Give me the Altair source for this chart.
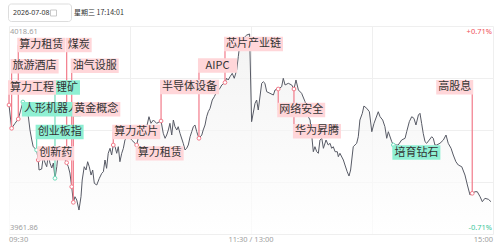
import altair as alt
import pandas as pd

# ---------------- data ----------------
t_min = [0.0, 1.3, 3.0, 4.6, 6.9, 9.6, 10.4, 11.3, 12.0, 13.7, 14.5, 14.9, 16.2, 17.0, 17.9, 18.7,
         19.5, 20.3, 21.2, 22.0, 22.8, 23.7, 24.4, 25.3, 26.1, 26.9, 28.6, 29.4, 30.2, 31.1, 31.9,
         32.7, 33.6, 34.7, 35.7, 36.3, 37.3, 38.2, 39.0, 39.8, 40.7, 41.5, 42.3, 43.5, 44.8, 46.0,
         46.8, 47.6, 48.4, 49.2, 50.1, 50.9, 51.7, 52.6, 53.4, 54.2, 55.0, 55.9, 56.7, 57.5, 59.2,
         60.8, 62.5, 63.3, 65.0, 66.6, 68.3, 69.4, 70.4, 71.6, 73.2, 75.4, 76.5, 77.4, 78.2, 79.0,
         79.8, 80.7, 81.5, 82.3, 83.2, 83.9, 84.8, 86.4, 87.3, 88.1, 88.9, 89.8, 90.6, 91.4, 92.2,
         93.1, 94.2, 95.6, 96.3, 97.2, 98.0, 98.8, 99.7, 100.8, 101.8, 103.0, 104.6, 105.5, 107.1,
         107.9, 108.7, 109.6, 110.7, 111.7, 112.9, 113.7, 114.5, 115.4, 117.9, 119.3,
         120.3, 122.0, 122.8, 123.6, 125.3, 126.1, 126.9, 127.8, 129.4, 131.1, 131.9, 133.5, 135.2,
         136.0, 136.9, 138.5, 140.2, 141.3, 142.3, 143.5, 145.1, 146.8, 148.4, 149.3, 150.1, 150.9,
         151.7, 152.6, 153.4, 154.2, 155.1, 155.9, 157.2, 158.3, 159.2, 160.0, 160.8, 161.7, 162.8,
         163.3, 164.1, 165.8, 166.6, 167.7, 168.6, 169.4, 170.7, 172.4, 173.2, 174.0, 175.2, 176.0,
         177.4, 178.7, 179.9, 181.0,
         183.1, 184.0, 185.3, 186.4, 187.3, 188.1, 189.8, 190.6, 193.0, 194.7, 196.4, 197.2, 198.5,
         199.7, 200.8, 201.8, 203.0, 203.8, 204.6, 205.4, 206.3, 207.1, 208.4, 209.6, 210.4, 211.2,
         212.1, 213.7, 215.4, 216.7, 217.8, 219.2, 220.3, 221.6, 222.8, 224.5, 226.1, 227.3, 228.6,
         229.7, 231.1, 232.2, 233.6, 234.7, 236.0, 237.7, 239.0]

price = [3997.06, 3990.70, 3992.06, 3993.24, 3997.87, 3993.86, 3990.24, 3987.51, 3985.68, 3984.78,
         3982.05, 3979.32, 3979.59, 3982.95, 3981.23, 3980.22, 3983.41, 3981.23, 3979.87, 3981.23,
         3977.06, 3980.22, 3983.96, 3982.05, 3984.78, 3982.95, 3981.31, 3980.22, 3978.50, 3974.76,
         3970.50, 3972.03, 3971.13, 3968.40, 3972.03, 3976.59, 3980.22, 3979.32, 3981.58, 3980.22,
         3977.95, 3979.32, 3975.69, 3975.23, 3977.06, 3978.42, 3978.86, 3982.05, 3979.78, 3983.88,
         3985.24, 3983.41, 3986.14, 3985.68, 3983.88, 3985.68, 3981.58, 3983.88, 3985.24, 3987.51,
         3988.87,
         3987.51, 3986.61, 3986.14, 3990.24, 3988.87, 3991.14, 3993.86, 3992.06, 3992.96, 3992.06,
         3992.69, 3989.33, 3987.97, 3988.87, 3990.24, 3992.06, 3988.87, 3992.96, 3991.14, 3990.24,
         3991.14, 3989.33, 3986.61, 3984.78, 3985.24, 3986.14, 3988.40, 3989.77, 3991.14, 3991.60,
         3989.77, 3987.97, 3988.87, 3990.24, 3991.60, 3993.86, 3995.22, 3996.15, 3998.42, 3999.32,
         4000.68, 4001.61, 4002.51, 4003.19, 4004.34, 4003.88, 4004.78, 4005.70, 4004.34, 4006.60,
         4010.23, 4013.89, 4014.79, 4016.15, 4016.43,
         3992.50, 3997.52, 3998.42, 3995.69, 4002.98, 4003.41, 4002.98, 4000.68, 4000.25, 3999.78,
         4001.15, 4001.42, 4002.05, 4004.34, 4002.51, 4002.98, 4002.51, 4001.42, 4003.88, 4001.15,
         4000.25, 3997.96, 3993.86, 3992.96, 3988.87, 3984.31, 3985.68, 3984.31, 3983.88, 3987.51,
         3987.97, 3985.24, 3987.51, 3986.14, 3986.61, 3985.24, 3985.68, 3984.31, 3984.31, 3982.95,
         3983.88, 3982.05, 3980.68, 3978.86, 3977.68, 3979.32, 3985.68, 3986.61, 3988.40, 3992.96,
         3994.79, 3996.78, 3996.15, 3995.22, 3989.77, 3992.06,
         3995.22, 3993.86, 3992.96, 3991.14, 3987.97, 3989.77, 3987.04, 3986.14, 3986.14, 3987.51,
         3987.97, 3989.77, 3992.50, 3993.86, 3993.42, 3991.60, 3994.32, 3994.79, 3992.06, 3989.33,
         3987.04, 3986.61, 3987.51, 3988.40, 3987.97, 3986.14, 3986.14, 3986.61, 3987.51, 3988.87,
         3986.61, 3985.24, 3983.41, 3981.58, 3980.68, 3980.22, 3977.95, 3975.23, 3972.50, 3972.96,
         3973.40, 3973.40, 3972.03, 3970.67, 3971.60, 3971.33, 3970.67]

y_low, y_high = 3961.86, 4018.61

tag_names = ['算力工程', '旅游酒店', '算力租赁', '人形机器人', '创新药', '创业板指', '锂矿', '煤炭',
             '油气设服', '黄金概念', '算力芯片', '算力租赁', '半导体设备', 'AIPC', '芯片产业链',
             '网络安全', '华为昇腾', '培育钻石', '高股息']
tag_kind = ['rise', 'rise', 'rise', 'fall', 'rise', 'fall', 'fall', 'rise',
            'rise', 'rise', 'rise', 'rise', 'rise', 'rise', 'rise',
            'rise', 'rise', 'fall', 'rise']
tag_t = [0.0, 1.3, 4.6, 6.9, 14.5, 13.7, 22.8, 28.6, 31.1, 31.9, 51.7, 63.3, 75.4, 94.2, 107.1,
         133.5, 141.3, 190.6, 229.7]
tag_price = [3997.06, 3990.70, 3993.24, 3997.87, 3982.05, 3984.78, 3977.06, 3981.31, 3974.76,
             3970.50, 3986.14, 3986.14, 3992.69, 3987.97, 4003.19, 4001.42, 4001.42, 3986.14, 3972.96]
tag_box_price = [4001.83, 4007.61, 4013.42, 3995.88, 3983.87, 3989.69, 4001.83, 4013.42, 4007.75,
                 3995.88, 3989.69, 3983.87, 4001.97, 4007.83, 4013.70, 3995.69, 3989.88, 3984.09,
                 4001.88]
tag_side = ['left'] * 18 + ['right']

time_ticks = [0, 120, 240]
time_labels = ['09:30', '11:30 / 13:00', '15:00']
date_text = '2026-07-08'
clock_text = '星期三 17:14:01'

# ---------------- layout / style ----------------
W, H = 484, 208
PX_MIN = W / 240
PX_PRICE = H / (y_high - y_low)
FONT = 'Noto Sans CJK SC'
FS = 11
RED_LINE, RED_BOX = '#f27b8a', '#ffd6d9'
GRN_LINE, GRN_BOX = '#6fdcba', '#8ff0d3'

prev_close = (y_low + y_high) / 2
pct = (y_high - prev_close) / prev_close * 100

xs = alt.Scale(domain=[0, 240], nice=False, zero=False)
ys = alt.Scale(domain=[y_low, y_high], nice=False, zero=False)
xaxis = alt.Axis(values=[0, 60, 120, 180, 240], labels=False, ticks=False, domain=False,
                 grid=True, gridColor='#efefef', gridWidth=1, title=None)
yq = (y_high - y_low) / 4
yaxis = alt.Axis(values=[y_low, y_low + yq, prev_close, y_low + 3 * yq, y_high], labels=False,
                 ticks=False, domain=False, grid=True, gridColor='#efefef', gridWidth=1, title=None)


def X(f):
    return alt.X(f, type='quantitative', scale=xs, axis=xaxis)


def Y(f):
    return alt.Y(f, type='quantitative', scale=ys, axis=yaxis)


def text_px(s):
    return sum(FS * 0.8 if ord(c) < 128 else FS for c in s)


line_df = pd.DataFrame({'t': t_min, 'p': price})

rows = []
for n, k, t, p, bp, sd in zip(tag_names, tag_kind, tag_t, tag_price, tag_box_price, tag_side):
    w = text_px(n) + 4
    mx = t * PX_MIN
    x0 = mx - 1 if sd == 'left' else mx - w + 1
    x1 = x0 + w
    rows.append(dict(name=n, kind=k, t=t, p=p, bp=bp,
                     x0=x0 / PX_MIN, x1=x1 / PX_MIN, xc=(x0 + x1) / 2 / PX_MIN,
                     y0=bp - 7.2 / PX_PRICE, y1=bp + 7.2 / PX_PRICE))
tags = pd.DataFrame(rows)

grad = alt.Gradient(gradient='linear',
                    stops=[alt.GradientStop(color='#eeeeee', offset=0),
                           alt.GradientStop(color='#ffffff', offset=1)],
                    x1=1, x2=1, y1=0, y2=1)

layers = []
layers.append(alt.Chart(line_df).mark_area(fill=grad, opacity=0.7).encode(
    x=X('t'), y=Y('p'), y2=alt.datum(y_low)))
layers.append(alt.Chart(line_df).mark_line(color='#585b66', strokeWidth=1).encode(
    x=X('t'), y=Y('p')))

# connector rules and markers
for kind, col in (('fall', GRN_LINE), ('rise', RED_LINE)):
    d = tags[tags.kind == kind]
    layers.append(alt.Chart(d).mark_rule(color=col, strokeWidth=1.2).encode(
        x=X('t'), y=Y('p'), y2='bp:Q'))
for kind, col in (('fall', GRN_LINE), ('rise', RED_LINE)):
    d = tags[tags.kind == kind]
    layers.append(alt.Chart(d).mark_point(shape='circle', filled=True, fill='white', stroke=col,
                                          strokeWidth=1, size=14, opacity=1).encode(
        x=X('t'), y=Y('p')))

# label boxes: green first, pink on top
for kind, col in (('fall', GRN_BOX), ('rise', RED_BOX)):
    d = tags[tags.kind == kind]
    for _, r in d.iterrows():
        one = pd.DataFrame([r])
        layers.append(alt.Chart(one).mark_rect(fill=col).encode(
            x=X('x0'), x2='x1:Q', y=Y('y0'), y2='y1:Q'))
        layers.append(alt.Chart(one).mark_text(font=FONT, fontSize=FS, color='#333333',
                                               align='center', baseline='middle').encode(
            x=X('xc'), y=Y('bp'), text='name:N'))

# corner price labels
corner = [
    (0, y_high, f'{y_high:.2f}', 'left', 'top', '#a0a0a0', 1, 2),
    (0, y_low, f'{y_low:.2f}', 'left', 'bottom', '#a0a0a0', 1, -2),
    (240, y_high, f'+{pct:.2f}%', 'right', 'top', '#f0505a', -1, 2),
    (240, y_low, f'-{pct:.2f}%', 'right', 'bottom', '#3cc79c', -1, -2),
]
for t, p, s, al, bl, col, dx, dy in corner:
    d = pd.DataFrame({'t': [t], 'p': [p], 's': [s]})
    layers.append(alt.Chart(d).mark_text(font='Noto Sans', fontSize=7.5, color=col, align=al,
                                         baseline=bl, dx=dx, dy=dy).encode(
        x=X('t'), y=Y('p'), text='s:N'))

# time labels
for t, s, al in zip(time_ticks, time_labels, ['left', 'center', 'right']):
    d = pd.DataFrame({'t': [t], 's': [s]})
    layers.append(alt.Chart(d).mark_text(font='Noto Sans', fontSize=7.5, color='#a0a0a0',
                                         align=al, baseline='middle').encode(
        x=X('t'), y=alt.value(H + 6), text='s:N'))

# header
one = pd.DataFrame({'v': [0]})
layers.append(alt.Chart(one).mark_rect(fill='white', stroke='#dddddd', strokeWidth=1,
                                       cornerRadius=3).encode(
    x=alt.value(-0.5), x2=alt.value(62.5), y=alt.value(-22), y2=alt.value(-4.5)))
layers.append(alt.Chart(one).mark_rect(fill='white', stroke='#bbbbbb', strokeWidth=0.8).encode(
    x=alt.value(41.5), x2=alt.value(47.5), y=alt.value(-16), y2=alt.value(-10)))
layers.append(alt.Chart(one).mark_text(font='Noto Sans', fontSize=7, color='#333333',
                                       align='left', baseline='middle').encode(
    x=alt.value(4), y=alt.value(-13), text=alt.value(date_text)))
layers.append(alt.Chart(one).mark_text(font=FONT, fontSize=7, color='#333333',
                                       align='left', baseline='middle').encode(
    x=alt.value(65), y=alt.value(-13), text=alt.value(clock_text)))

chart = alt.layer(*layers).properties(
    width=W, height=H, autosize='none',
    padding={'left': 9, 'top': 26, 'right': 7, 'bottom': 16},
    background='white',
).configure_view(stroke=None)

chart.save('out.html', embed_options={'renderer': 'svg', 'actions': False})
